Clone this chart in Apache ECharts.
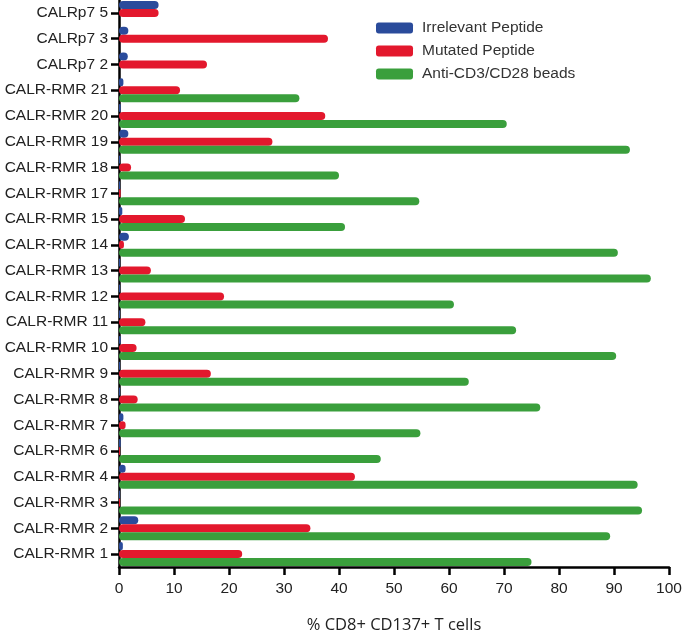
<!DOCTYPE html>
<html><head><meta charset="utf-8">
<script src="https://cdn.jsdelivr.net/npm/echarts@6/dist/echarts.min.js"></script>
<style>html,body{margin:0;padding:0;background:#fff}#c{width:685px;height:639px}</style>
</head><body><div id="c"></div>
<script>
var categories = ['CALRp7 5','CALRp7 3','CALRp7 2','CALR-RMR 21','CALR-RMR 20','CALR-RMR 19','CALR-RMR 18','CALR-RMR 17','CALR-RMR 15','CALR-RMR 14','CALR-RMR 13','CALR-RMR 12','CALR-RMR 11','CALR-RMR 10','CALR-RMR 9','CALR-RMR 8','CALR-RMR 7','CALR-RMR 6','CALR-RMR 4','CALR-RMR 3','CALR-RMR 2','CALR-RMR 1'];
var irrelevant = [7.2,1.7,1.6,0.8,0.3,1.7,0.2,0.2,0.6,1.8,0.2,0.2,0.2,0.3,0.2,0.2,0.8,0.3,1.2,0.2,3.5,0.7];
var mutated    = [7.2,38.0,16.0,11.1,37.5,27.9,2.2,0.3,12.0,0.9,5.8,19.1,4.8,3.2,16.7,3.4,1.2,0.2,42.9,0.2,34.8,22.4];
var beads      = [0,0,0,32.8,70.5,92.9,40.0,54.6,41.1,90.7,96.7,60.9,72.2,90.4,63.6,76.6,54.8,47.6,94.3,95.1,89.3,75.0];
var xTicks = [0,10,20,30,40,50,60,70,80,90,100];
var seriesNames = ['Irrelevant Peptide','Mutated Peptide','Anti-CD3/CD28 beads'];
var colors = ['#2a4b9b','#e3182d','#3a9f3c'];

var chart = echarts.init(document.getElementById('c'));
var font = '"Liberation Sans", Arial, sans-serif';
function mk(name, data, color){
  return {name:name, type:'bar', data:data, barWidth:8, barGap:'0%',
    itemStyle:{color:color, borderRadius:4}, animation:false};
}
chart.setOption({
  animation:false,
  grid:{left:119, right:16, top:0, bottom:70},
  legend:{orient:'vertical', left:371, top:15, itemWidth:37, itemHeight:11, itemGap:7,
    icon:'roundRect', data:seriesNames,
    textStyle:{fontFamily:font, fontSize:15.5, color:'#333', padding:[0,0,0,4]}},
  xAxis:{type:'value', min:0, max:100, interval:10,
    axisLine:{show:true, lineStyle:{color:'#000', width:2.5}},
    axisTick:{show:true, length:8, lineStyle:{color:'#000', width:2.5}},
    axisLabel:{fontFamily:font, fontSize:15.5, color:'#222', margin:14,
      formatter:function(v){return xTicks.indexOf(v)>=0? String(v):'';}},
    splitLine:{show:false},
    name:'% CD8+ CD137+ T cells', nameLocation:'middle', nameGap:50,
    nameTextStyle:{fontFamily:'"Open Sans", sans-serif', fontSize:16.5, color:'#222'}},
  yAxis:{type:'category', data:categories, inverse:true,
    axisLine:{show:true, lineStyle:{color:'#000', width:2.5}},
    axisTick:{show:true, length:8, alignWithLabel:true, lineStyle:{color:'#000', width:2.5}},
    axisLabel:{fontFamily:font, fontSize:15.5, color:'#222', margin:11}},
  series:[mk(seriesNames[0], irrelevant, colors[0]), mk(seriesNames[1], mutated, colors[1]), mk(seriesNames[2], beads, colors[2])]
});
</script></body></html>
